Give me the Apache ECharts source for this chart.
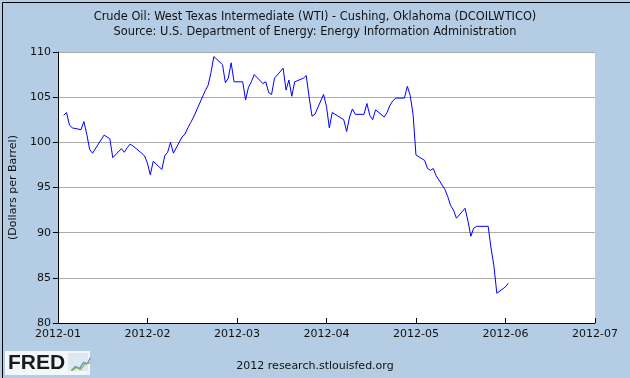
<!DOCTYPE html>
<html>
<head>
<meta charset="utf-8">
<title>WTI</title>
<script src="https://cdn.jsdelivr.net/npm/echarts@6/dist/echarts.min.js"></script>
<style>
html,body{margin:0;padding:0;}
#main{width:630px;height:378px;}
</style>
</head>
<body>
<div id="main"></div>
<script>
// daily closing price, dollars per barrel
var dates = [
  '2012-01-03','2012-01-04','2012-01-05','2012-01-06','2012-01-09','2012-01-10','2012-01-11','2012-01-12','2012-01-13',
  '2012-01-17','2012-01-18','2012-01-19','2012-01-20','2012-01-23','2012-01-24','2012-01-25','2012-01-26','2012-01-27',
  '2012-01-30','2012-01-31','2012-02-01','2012-02-02','2012-02-03','2012-02-06','2012-02-07','2012-02-08','2012-02-09',
  '2012-02-10','2012-02-13','2012-02-14','2012-02-15','2012-02-16','2012-02-17','2012-02-21','2012-02-22','2012-02-23',
  '2012-02-24','2012-02-27','2012-02-28','2012-02-29','2012-03-01','2012-03-02','2012-03-05','2012-03-06','2012-03-07',
  '2012-03-08','2012-03-09','2012-03-12','2012-03-13','2012-03-14','2012-03-15','2012-03-16','2012-03-19','2012-03-20',
  '2012-03-21','2012-03-22','2012-03-23','2012-03-26','2012-03-27','2012-03-28','2012-03-29','2012-03-30','2012-04-02',
  '2012-04-03','2012-04-04','2012-04-05','2012-04-09','2012-04-10','2012-04-11','2012-04-12','2012-04-13','2012-04-16',
  '2012-04-17','2012-04-18','2012-04-19','2012-04-20','2012-04-23','2012-04-24','2012-04-25','2012-04-26','2012-04-27',
  '2012-04-30','2012-05-01','2012-05-02','2012-05-03','2012-05-04','2012-05-07','2012-05-08','2012-05-09','2012-05-10',
  '2012-05-11','2012-05-14','2012-05-15','2012-05-16','2012-05-17','2012-05-18','2012-05-21','2012-05-22','2012-05-23',
  '2012-05-24','2012-05-25','2012-05-29','2012-05-30','2012-05-31','2012-06-01','2012-06-04','2012-06-05'
];
var prices = [
  103.0,103.3,101.9,101.6,101.4,102.3,100.9,99.2,98.8,
  100.8,100.6,100.4,98.3,99.3,98.9,99.4,99.8,99.6,
  98.8,98.5,97.7,96.4,97.9,97.0,98.5,98.9,100.0,
  98.8,100.6,100.9,101.6,102.2,102.8,105.7,106.3,107.7,
  109.5,108.6,106.6,107.1,108.8,106.7,106.7,104.7,106.1,
  106.7,107.5,106.5,106.7,105.5,105.3,107.1,108.2,105.8,
  106.9,105.1,106.7,107.1,107.4,105.0,102.9,103.1,105.3,
  104.0,101.6,103.3,102.5,101.2,102.8,103.7,103.1,103.1,
  104.3,103.0,102.5,103.6,102.8,103.3,104.1,104.6,104.9,
  104.9,106.2,105.2,103.1,98.6,98.0,97.1,96.9,97.1,
  96.3,94.8,94.0,93.0,92.5,91.6,92.7,91.3,89.6,
  90.5,90.7,90.7,88.3,86.3,83.3,84.0,84.4
];
var tickLabels = ['2012-01','2012-02','2012-03','2012-04','2012-05','2012-06','2012-07'];
var yTicks = [80, 85, 90, 95, 100, 105, 110];

function dayIndex(s) {
  var p = s.split('-');
  return (Date.UTC(+p[0], +p[1] - 1, +p[2]) - Date.UTC(2012, 0, 1)) / 86400000;
}

var seriesData = dates.map(function (d, i) { return [dayIndex(d), prices[i]]; });

var font = 'DejaVu Sans';
var myChart = echarts.init(document.getElementById('main'));
myChart.setOption({
  backgroundColor: '#b4cde4',
  animation: false,
  title: {
    text: 'Crude Oil: West Texas Intermediate (WTI) - Cushing, Oklahoma (DCOILWTICO)\nSource: U.S. Department of Energy: Energy Information Administration',
    left: 'center',
    top: 5,
    textStyle: {fontFamily: font, fontSize: 11.4, fontWeight: 'normal', color: '#111', lineHeight: 15, align: 'center'}
  },
  grid: {left: 54, right: 35, top: 52, bottom: 55, show: true, backgroundColor: '#ffffff', borderWidth: 0},
  xAxis: {
    type: 'value',
    min: 0,
    max: 186,
    interval: 31,
    axisLine: {lineStyle: {color: '#000', width: 1}},
    axisTick: {inside: true, length: 5, lineStyle: {color: '#000'}},
    splitLine: {show: false},
    axisLabel: {
      fontFamily: font, fontSize: 11, color: '#111', margin: 6,
      formatter: function (v) { return tickLabels[Math.round(v / 31)]; }
    }
  },
  yAxis: {
    type: 'value',
    min: yTicks[0],
    max: yTicks[yTicks.length - 1],
    interval: 5,
    name: '(Dollars per Barrel)',
    nameLocation: 'middle',
    nameGap: 37,
    nameTextStyle: {fontFamily: font, fontSize: 11, color: '#111'},
    axisLine: {show: true, lineStyle: {color: '#000', width: 1}},
    axisTick: {show: true, length: 5, lineStyle: {color: '#000'}},
    splitLine: {lineStyle: {color: '#aaaaaa', width: 1}},
    axisLabel: {fontFamily: font, fontSize: 11, color: '#111', margin: 7}
  },
  graphic: [
    {type: 'rect', left: 0, top: 0, shape: {width: 629, height: 377}, style: {fill: 'none', stroke: '#000', lineWidth: 1}, z: 100},
    {type: 'rect', left: 5, top: 351, shape: {width: 85, height: 24}, style: {fill: '#f4f7fa'}},
    {type: 'text', left: 8, top: 353, style: {text: 'FRED', fontFamily: 'Liberation Sans', fontSize: 21, fontWeight: 'bold', fill: '#1a1a1a'}},
    {type: 'rect', left: 68, top: 353, shape: {width: 20, height: 18}, style: {fill: '#dfe8f0'}},
    {type: 'polyline', left: 69, top: 355, shape: {points: [[0, 14], [4, 10], [8, 12], [12, 6], [16, 7], [19, 1]]}, style: {stroke: '#5a8ac0', fill: 'none', lineWidth: 1.2}},
    {type: 'polyline', left: 69, top: 360, shape: {points: [[0, 10], [5, 7], [9, 9], [13, 4], [19, 2]]}, style: {stroke: '#7cb342', fill: 'none', lineWidth: 1.2}},
    {type: 'text', left: 'center', top: 361, style: {text: '2012 research.stlouisfed.org', fontFamily: font, fontSize: 11, fill: '#111'}}
  ],
  series: [{
    type: 'line',
    data: seriesData,
    showSymbol: false,
    symbol: 'none',
    lineStyle: {color: '#0000ff', width: 1},
    silent: true
  }]
});
</script>
</body>
</html>
